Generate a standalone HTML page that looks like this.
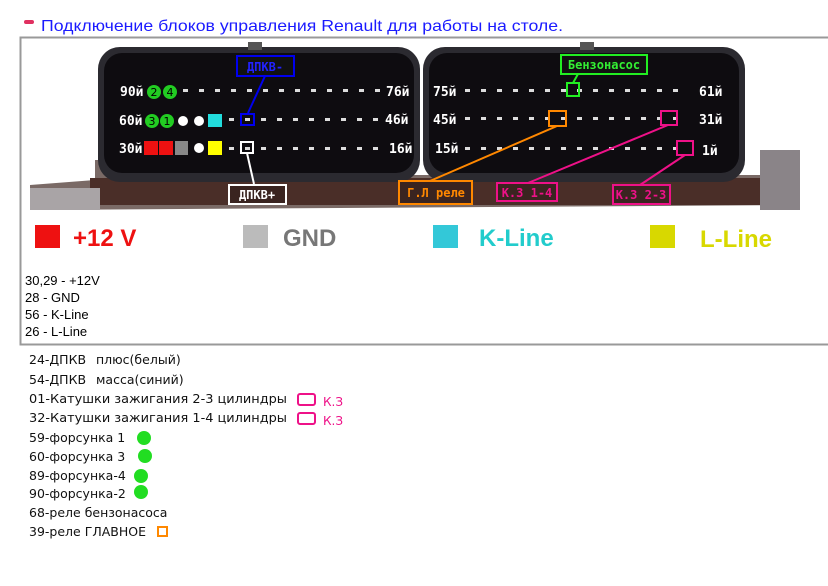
<!DOCTYPE html>
<html><head><meta charset="utf-8"><style>
body{margin:0;background:#fff;width:828px;height:582px;overflow:hidden;font-family:"DejaVu Sans","Liberation Sans",sans-serif}
</style></head><body>
<svg width="828" height="582" xmlns="http://www.w3.org/2000/svg" font-family="DejaVu Sans, Liberation Sans, sans-serif">
<rect x="24" y="20" width="10" height="4" fill="#e03060" rx="2"/>
<text x="41" y="31" font-size="16" fill="#1a1aff" font-family="Liberation Sans, sans-serif" textLength="522" lengthAdjust="spacingAndGlyphs">Подключение блоков управления  Renault для работы на столе.</text>
<rect x="20.5" y="37.5" width="820" height="307" fill="#fff" stroke="#999" stroke-width="2"/>
<path d="M30 185 L95 180 L95 160 L120 160 L120 175 L760 175 L760 160 L790 160 L800 180 L800 205 L30 210 Z" fill="#7a6a66"/>
<rect x="90" y="178" width="710" height="27" fill="#4a2e28"/>
<rect x="30" y="188" width="70" height="22" fill="#a9a4a6"/>
<rect x="760" y="150" width="40" height="60" fill="#8a8488"/>
<rect x="98" y="47" width="322" height="135" rx="22" fill="#2b2a30"/>
<rect x="104" y="53" width="310" height="120" rx="18" fill="#0e0c10"/>
<rect x="423" y="47" width="322" height="135" rx="22" fill="#2b2a30"/>
<rect x="429" y="53" width="310" height="120" rx="18" fill="#0e0c10"/>
<rect x="248" y="42" width="14" height="8" fill="#555"/>
<rect x="580" y="42" width="14" height="8" fill="#555"/>
<g fill="#ddd">
<g><rect x="183" y="89" width="5" height="3"/><rect x="199" y="89" width="5" height="3"/><rect x="215" y="89" width="5" height="3"/><rect x="231" y="89" width="5" height="3"/><rect x="247" y="89" width="5" height="3"/><rect x="263" y="89" width="5" height="3"/><rect x="279" y="89" width="5" height="3"/><rect x="295" y="89" width="5" height="3"/><rect x="311" y="89" width="5" height="3"/><rect x="327" y="89" width="5" height="3"/><rect x="343" y="89" width="5" height="3"/><rect x="359" y="89" width="5" height="3"/><rect x="375" y="89" width="5" height="3"/></g>
<g transform="translate(46,29)"><rect x="183" y="89" width="5" height="3"/><rect x="199" y="89" width="5" height="3"/><rect x="215" y="89" width="5" height="3"/><rect x="231" y="89" width="5" height="3"/><rect x="247" y="89" width="5" height="3"/><rect x="263" y="89" width="5" height="3"/><rect x="279" y="89" width="5" height="3"/><rect x="295" y="89" width="5" height="3"/><rect x="311" y="89" width="5" height="3"/><rect x="327" y="89" width="5" height="3"/></g>
<g transform="translate(46,58)"><rect x="183" y="89" width="5" height="3"/><rect x="199" y="89" width="5" height="3"/><rect x="215" y="89" width="5" height="3"/><rect x="231" y="89" width="5" height="3"/><rect x="247" y="89" width="5" height="3"/><rect x="263" y="89" width="5" height="3"/><rect x="279" y="89" width="5" height="3"/><rect x="295" y="89" width="5" height="3"/><rect x="311" y="89" width="5" height="3"/><rect x="327" y="89" width="5" height="3"/></g>
<g transform="translate(282,0)"><rect x="183" y="89" width="5" height="3"/><rect x="199" y="89" width="5" height="3"/><rect x="215" y="89" width="5" height="3"/><rect x="231" y="89" width="5" height="3"/><rect x="247" y="89" width="5" height="3"/><rect x="263" y="89" width="5" height="3"/><rect x="279" y="89" width="5" height="3"/><rect x="295" y="89" width="5" height="3"/><rect x="311" y="89" width="5" height="3"/><rect x="327" y="89" width="5" height="3"/><rect x="343" y="89" width="5" height="3"/><rect x="359" y="89" width="5" height="3"/><rect x="375" y="89" width="5" height="3"/><rect x="391" y="89" width="5" height="3"/></g>
<g transform="translate(282,28)"><rect x="183" y="89" width="5" height="3"/><rect x="199" y="89" width="5" height="3"/><rect x="215" y="89" width="5" height="3"/><rect x="231" y="89" width="5" height="3"/><rect x="247" y="89" width="5" height="3"/><rect x="263" y="89" width="5" height="3"/><rect x="279" y="89" width="5" height="3"/><rect x="295" y="89" width="5" height="3"/><rect x="311" y="89" width="5" height="3"/><rect x="327" y="89" width="5" height="3"/><rect x="343" y="89" width="5" height="3"/><rect x="359" y="89" width="5" height="3"/><rect x="375" y="89" width="5" height="3"/><rect x="391" y="89" width="5" height="3"/></g>
<g transform="translate(282,58)"><rect x="183" y="89" width="5" height="3"/><rect x="199" y="89" width="5" height="3"/><rect x="215" y="89" width="5" height="3"/><rect x="231" y="89" width="5" height="3"/><rect x="247" y="89" width="5" height="3"/><rect x="263" y="89" width="5" height="3"/><rect x="279" y="89" width="5" height="3"/><rect x="295" y="89" width="5" height="3"/><rect x="311" y="89" width="5" height="3"/><rect x="327" y="89" width="5" height="3"/><rect x="343" y="89" width="5" height="3"/><rect x="359" y="89" width="5" height="3"/><rect x="375" y="89" width="5" height="3"/><rect x="391" y="89" width="5" height="3"/></g>
</g>
<g font-family="DejaVu Sans Mono, monospace" font-weight="bold" font-size="13" fill="#fff">
<text x="120" y="96">90й</text><text x="119" y="125">60й</text><text x="119" y="153">30й</text>
<text x="386" y="96">76й</text><text x="385" y="124">46й</text><text x="389" y="153">16й</text>
<text x="433" y="96">75й</text><text x="433" y="124">45й</text><text x="435" y="153">15й</text>
<text x="699" y="96">61й</text><text x="699" y="124">31й</text><text x="702" y="155">1й</text>
</g>
<g font-size="11" text-anchor="middle">
<circle cx="154" cy="92" r="7" fill="#22cc22"/><text x="154" y="96">2</text>
<circle cx="170" cy="92" r="7" fill="#22cc22"/><text x="170" y="96">4</text>
<circle cx="152" cy="121" r="7" fill="#22cc22"/><text x="152" y="125">3</text>
<circle cx="167" cy="121" r="7" fill="#22cc22"/><text x="167" y="125">1</text>
</g>
<circle cx="183" cy="121" r="5" fill="#fff"/><circle cx="199" cy="121" r="5" fill="#fff"/>
<rect x="208" y="114" width="14" height="13" fill="#22dddd"/>
<rect x="144" y="141" width="14" height="14" fill="#ee1111"/><rect x="159" y="141" width="14" height="14" fill="#ee1111"/>
<rect x="175" y="141" width="13" height="14" fill="#888"/>
<circle cx="199" cy="148" r="5" fill="#fff"/>
<rect x="208" y="141" width="14" height="14" fill="#ffff00"/>
<g fill="none" stroke-width="2">
<rect x="241" y="114" width="13" height="11" stroke="#0000ee"/>
<line x1="248" y1="113" x2="265" y2="76" stroke="#0000ee"/>
<rect x="237" y="56" width="57" height="20" stroke="#0000ee" fill="#111"/>
<rect x="241" y="142" width="12" height="11" stroke="#fff"/>
<line x1="247" y1="153" x2="254" y2="184" stroke="#fff"/>
<rect x="229" y="185" width="57" height="19" stroke="#fff" fill="#3a2420"/>
<rect x="567" y="83" width="12" height="13" stroke="#22ee22"/>
<line x1="573" y1="83" x2="578" y2="74" stroke="#22ee22"/>
<rect x="561" y="55" width="86" height="19" stroke="#22ee22" fill="#111"/>
<rect x="549" y="111" width="17" height="15" stroke="#ff8800"/>
<line x1="557" y1="126" x2="430" y2="181" stroke="#ff8800"/>
<rect x="399" y="181" width="73" height="23" stroke="#ff8800" fill="#3a2420"/>
<rect x="661" y="111" width="16" height="14" stroke="#ee1188"/>
<line x1="668" y1="125" x2="528" y2="183" stroke="#ee1188"/>
<rect x="497" y="183" width="60" height="18" stroke="#ee1188" fill="#3a2420"/>
<rect x="677" y="141" width="16" height="14" stroke="#ee1188"/>
<line x1="685" y1="155" x2="640" y2="185" stroke="#ee1188"/>
<rect x="613" y="185" width="57" height="19" stroke="#ee1188" fill="#3a2420"/>
</g>
<g font-family="DejaVu Sans Mono, monospace" font-weight="bold" font-size="12" text-anchor="middle">
<text x="265" y="71" fill="#2222ff">ДПКВ-</text>
<text x="257" y="199" fill="#fff">ДПКВ+</text>
<text x="604" y="69" fill="#33ee33">Бензонасос</text>
<text x="436" y="197" fill="#ff8800">Г.Л реле</text>
<text x="527" y="197" fill="#ee1188">К.З 1-4</text>
<text x="641" y="199" fill="#ee1188">К.З 2-3</text>
</g>
<g font-family="Liberation Sans, sans-serif" font-weight="bold" font-size="24">
<rect x="35" y="225" width="25" height="23" fill="#ee1111"/><text x="73" y="246" fill="#ee1111">+12 V</text>
<rect x="243" y="225" width="25" height="23" fill="#bbb"/><text x="283" y="246" fill="#777">GND</text>
<rect x="433" y="225" width="25" height="23" fill="#33c8d8"/><text x="479" y="246" fill="#22cccc">K-Line</text>
<rect x="650" y="225" width="25" height="23" fill="#d8d800"/><text x="700" y="247" fill="#d8d800">L-Line</text>
</g>
<g font-family="Liberation Sans, sans-serif" font-size="13" fill="#000">
<text x="25" y="285">30,29 - +12V</text><text x="25" y="302">28 - GND</text>
<text x="25" y="319">56 - K-Line</text><text x="25" y="336">26 - L-Line</text>
</g>
<g font-size="12.5" fill="#111">
<text x="29" y="364">24-ДПКВ</text><text x="96" y="364">плюс(белый)</text>
<text x="29" y="384">54-ДПКВ</text><text x="96" y="384">масса(синий)</text>
<text x="29" y="403" textLength="258" lengthAdjust="spacingAndGlyphs">01-Катушки зажигания 2-3 цилиндры</text>
<text x="29" y="422" textLength="258" lengthAdjust="spacingAndGlyphs">32-Катушки зажигания 1-4 цилиндры</text>
<text x="29" y="442">59-форсунка 1</text>
<text x="29" y="461">60-форсунка 3</text>
<text x="29" y="480">89-форсунка-4</text>
<text x="29" y="498">90-форсунка-2</text>
<text x="29" y="517">68-реле бензонасоса</text>
<text x="29" y="536">39-реле ГЛАВНОЕ</text>
</g>
<rect x="298" y="394" width="17" height="11" rx="2" fill="none" stroke="#ee1188" stroke-width="2"/>
<text x="323" y="406" font-size="12" fill="#ee1188">К.З</text>
<rect x="298" y="413" width="17" height="11" rx="2" fill="none" stroke="#ee1188" stroke-width="2"/>
<text x="323" y="425" font-size="12" fill="#ee1188">К.З</text>
<circle cx="144" cy="438" r="7" fill="#22dd22"/><circle cx="145" cy="456" r="7" fill="#22dd22"/>
<circle cx="141" cy="476" r="7" fill="#22dd22"/><circle cx="141" cy="492" r="7" fill="#22dd22"/>
<rect x="158" y="527" width="9" height="9" fill="none" stroke="#ff8800" stroke-width="2"/>
</svg>
</body></html>
